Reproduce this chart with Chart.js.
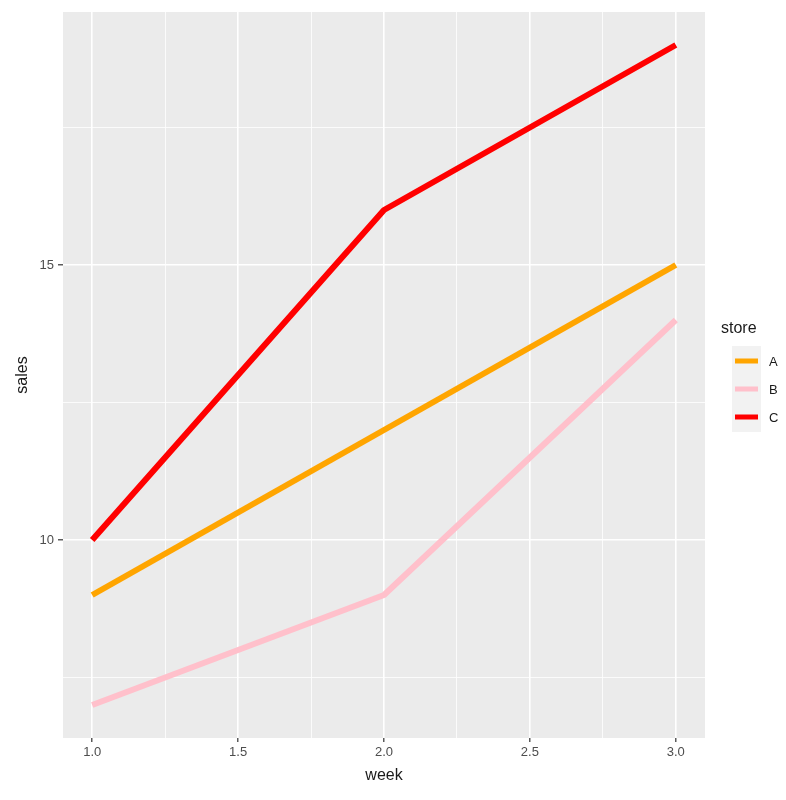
<!DOCTYPE html>
<html lang="en">
<head>
    <meta charset="UTF-8">
    <title>Sales by week</title>
    <script src="https://cdn.jsdelivr.net/npm/chart.js"></script>
    <style>
        body {
            margin: 0;
            background: #ffffff;
        }
        #wrap {
            width: 786px;
            height: 800px;
        }
    </style>
</head>
<body>
    <div id="wrap"><canvas id="myChart"></canvas></div>
    <script>
        // data
        const weeks = [1, 2, 3];
        const storeNames = ['A', 'B', 'C'];
        const storeColors = ['#FFA500', '#FFC0CB', '#FF0000'];
        const salesA = [9, 12, 15];
        const salesB = [7, 9, 14];
        const salesC = [10, 16, 19];
        const xTicks = [1.0, 1.25, 1.5, 1.75, 2.0, 2.25, 2.5, 2.75, 3.0];
        const xMajor = [1.0, 1.5, 2.0, 2.5, 3.0];
        const yTicks = [7.5, 10, 12.5, 15, 17.5];
        const yMajor = [10, 15];

        const FONT = '"Liberation Sans", Arial, sans-serif';
        const allSales = [salesA, salesB, salesC];

        const isMajor = (list, v) => list.some(m => Math.abs(m - v) < 1e-6);

        const panelBg = {
            id: 'panelBg',
            beforeDraw(chart) {
                const { ctx, chartArea } = chart;
                ctx.save();
                ctx.fillStyle = '#EBEBEB';
                ctx.fillRect(chartArea.left, chartArea.top, chartArea.right - chartArea.left, chartArea.bottom - chartArea.top);
                ctx.restore();
            }
        };

        // ggplot-style legend at the right
        const sideLegend = {
            id: 'sideLegend',
            afterDraw(chart) {
                const ctx = chart.ctx;
                ctx.save();
                ctx.fillStyle = '#1A1A1A';
                ctx.font = '16px ' + FONT;
                ctx.textBaseline = 'middle';
                ctx.textAlign = 'left';
                ctx.fillText('store', 721, 329);

                ctx.fillStyle = '#F2F2F2';
                ctx.fillRect(732, 346, 29, 86);
                storeNames.forEach((name, i) => {
                    const y = 361 + i * 28;
                    ctx.strokeStyle = storeColors[i];
                    ctx.lineWidth = 5;
                    ctx.lineCap = 'butt';
                    ctx.beginPath();
                    ctx.moveTo(735, y);
                    ctx.lineTo(758, y);
                    ctx.stroke();
                    ctx.fillStyle = '#1A1A1A';
                    ctx.font = '13px ' + FONT;
                    ctx.fillText(name, 769, y + 1);
                });
                ctx.restore();
            }
        };

        const datasets = storeNames.map((name, i) => ({
            label: name,
            data: weeks.map((w, j) => ({ x: w, y: allSales[i][j] })),
            borderColor: storeColors[i],
            backgroundColor: storeColors[i],
            borderWidth: 6,
            borderCapStyle: 'butt',
            borderJoinStyle: 'round',
            pointRadius: 0,
            pointHoverRadius: 0,
            tension: 0
        }));

        const ctx = document.getElementById('myChart').getContext('2d');
        const myChart = new Chart(ctx, {
            type: 'line',
            data: { datasets: datasets },
            options: {
                responsive: true,
                maintainAspectRatio: false,
                animation: false,
                layout: { padding: { top: 12, right: 81, left: 0, bottom: 0 } },
                plugins: {
                    legend: { display: false },
                    tooltip: { enabled: false }
                },
                scales: {
                    x: {
                        type: 'linear',
                        min: 0.9,
                        max: 3.1,
                        afterBuildTicks: (scale) => { scale.ticks = xTicks.map(v => ({ value: v })); },
                        afterFit: (scale) => { scale.height = 62; },
                        border: { display: false },
                        grid: {
                            color: '#FFFFFF',
                            lineWidth: (c) => isMajor(xMajor, c.tick.value) ? 1.6 : 0.8,
                            tickLength: 4,
                            tickWidth: 1.2,
                            tickColor: (c) => isMajor(xMajor, c.tick.value) ? '#333333' : 'rgba(0,0,0,0)'
                        },
                        ticks: {
                            autoSkip: false,
                            maxRotation: 0,
                            padding: 3,
                            color: '#4D4D4D',
                            font: { family: FONT, size: 13 },
                            callback: (v) => isMajor(xMajor, v) ? Number(v).toFixed(1) : ''
                        },
                        title: {
                            display: true,
                            text: 'week',
                            color: '#1A1A1A',
                            font: { family: FONT, size: 16 },
                            padding: { top: 0, bottom: 15 }
                        }
                    },
                    y: {
                        type: 'linear',
                        min: 6.4,
                        max: 19.6,
                        afterBuildTicks: (scale) => { scale.ticks = yTicks.map(v => ({ value: v })); },
                        afterFit: (scale) => { scale.width = 63; },
                        border: { display: false },
                        grid: {
                            color: '#FFFFFF',
                            lineWidth: (c) => isMajor(yMajor, c.tick.value) ? 1.6 : 0.8,
                            tickLength: 5,
                            tickWidth: 1.2,
                            tickColor: (c) => isMajor(yMajor, c.tick.value) ? '#333333' : 'rgba(0,0,0,0)'
                        },
                        ticks: {
                            autoSkip: false,
                            padding: 4,
                            color: '#4D4D4D',
                            font: { family: FONT, size: 13 },
                            callback: (v) => isMajor(yMajor, v) ? String(v) : ''
                        },
                        title: {
                            display: true,
                            text: 'sales',
                            color: '#1A1A1A',
                            font: { family: FONT, size: 16 },
                            padding: { top: 13, bottom: 0 }
                        }
                    }
                }
            },
            plugins: [panelBg, sideLegend]
        });
    </script>
</body>
</html>
